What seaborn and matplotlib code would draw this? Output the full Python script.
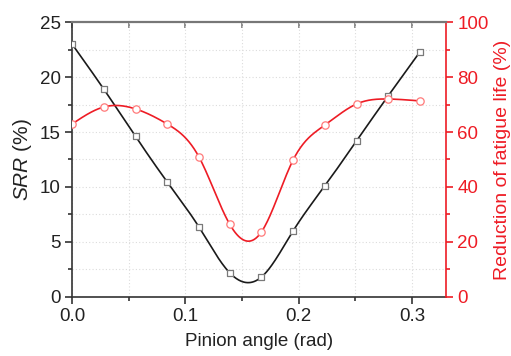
import numpy as np
import pandas as pd
import matplotlib
matplotlib.use("Agg")
import matplotlib.pyplot as plt
import seaborn as sns
from matplotlib.ticker import MultipleLocator, NullFormatter

angle = [0.0, 0.028, 0.056, 0.084, 0.112, 0.139, 0.167, 0.195, 0.223, 0.251, 0.279, 0.307]
srr = [23.0, 18.9, 14.6, 10.45, 6.35, 2.2, 1.8, 6.0, 10.1, 14.2, 18.3, 22.3]
reduction = [62.9, 69.1, 68.4, 62.9, 50.9, 26.5, 23.6, 49.8, 62.5, 70.2, 72.0, 71.3]


def natural_spline(x, y, xs):
    x = np.asarray(x, float)
    y = np.asarray(y, float)
    n = len(x)
    h = np.diff(x)
    A = np.zeros((n, n))
    b = np.zeros(n)
    A[0, 0] = 1
    A[-1, -1] = 1
    for i in range(1, n - 1):
        A[i, i - 1] = h[i - 1]
        A[i, i] = 2 * (h[i - 1] + h[i])
        A[i, i + 1] = h[i]
        b[i] = 3 * ((y[i + 1] - y[i]) / h[i] - (y[i] - y[i - 1]) / h[i - 1])
    c = np.linalg.solve(A, b)
    ys = np.empty_like(xs)
    for k, xv in enumerate(xs):
        i = min(max(np.searchsorted(x, xv) - 1, 0), n - 2)
        dx = xv - x[i]
        bi = (y[i + 1] - y[i]) / h[i] - h[i] * (2 * c[i] + c[i + 1]) / 3
        di = (c[i + 1] - c[i]) / (3 * h[i])
        ys[k] = y[i] + bi * dx + c[i] * dx ** 2 + di * dx ** 3
    return ys


sns.set_theme(style="white")
plt.rcParams["font.family"] = ["Liberation Sans", "DejaVu Sans"]
plt.rcParams["mathtext.fontset"] = "custom"
plt.rcParams["mathtext.it"] = "Liberation Sans:italic"
plt.rcParams["mathtext.rm"] = "Liberation Sans"

fig = plt.figure(figsize=(5.11, 3.56), dpi=100)
ax = fig.add_axes([0.141, 0.166, 0.732, 0.772])
ax2 = ax.twinx()

xs = np.linspace(angle[0], angle[-1], 400)
df_s = pd.DataFrame({"x": xs, "srr": natural_spline(angle, srr, xs),
                     "red": natural_spline(angle, reduction, xs)})
df = pd.DataFrame({"x": angle, "srr": srr, "red": reduction})

black = "#1a1a1a"
red = "#ee1c25"

sns.lineplot(data=df_s, x="x", y="srr", ax=ax, color=black, lw=1.2, zorder=3)
sns.scatterplot(data=df, x="x", y="srr", ax=ax, marker="s", s=22,
                facecolor="white", edgecolor="#7a7a7a", linewidth=0.9, zorder=4)
sns.lineplot(data=df_s, x="x", y="red", ax=ax2, color=red, lw=1.2, zorder=3)
sns.scatterplot(data=df, x="x", y="red", ax=ax2, marker="o", s=28,
                facecolor="white", edgecolor="#ff7a7a", linewidth=0.9, zorder=4)

ax.set_xlim(0, 0.33)
ax.set_ylim(0, 25)
ax2.set_ylim(0, 100)

ax.xaxis.set_major_locator(MultipleLocator(0.1))
ax.xaxis.set_minor_locator(MultipleLocator(0.05))
ax.yaxis.set_major_locator(MultipleLocator(5))
ax.yaxis.set_minor_locator(MultipleLocator(2.5))
ax2.yaxis.set_major_locator(MultipleLocator(20))
ax2.yaxis.set_minor_locator(MultipleLocator(10))
ax.set_xticks([0.0, 0.1, 0.2, 0.3])
ax.set_xticklabels(["0.0", "0.1", "0.2", "0.3"])

ax.grid(True, which="both", color="#dcdcdc", linestyle=(0, (1, 2)), lw=0.8)
ax.set_axisbelow(True)
ax2.grid(False)

fs = 13.5
ax.tick_params(axis="both", which="major", labelsize=fs, length=5, width=1.2,
               colors="#333333", labelcolor="#222222", direction="out",
               bottom=True, left=True, top=False, pad=3)
ax.tick_params(axis="both", which="minor", length=3, width=1.2,
               colors="#333333", direction="out", bottom=True, left=True, top=False)

# top ticks pointing inward
top = ax.secondary_xaxis("top")
top.xaxis.set_major_locator(MultipleLocator(0.05))
top.xaxis.set_major_formatter(NullFormatter())
top.tick_params(axis="x", which="major", direction="in", length=4, width=1.2,
                colors="#777777")
top.spines["top"].set_visible(False)

ax2.tick_params(axis="y", which="major", labelsize=fs, length=5, width=1.2,
                colors=red, labelcolor=red, direction="out", right=True, pad=3)
ax2.tick_params(axis="y", which="minor", length=3, width=1.2, colors=red,
                direction="out", right=True)

for s in ["left", "bottom"]:
    ax.spines[s].set_color("#333333")
    ax.spines[s].set_linewidth(1.2)
ax.spines["right"].set_visible(False)
for s in ["left", "bottom", "top"]:
    ax2.spines[s].set_visible(False)
ax2.spines["top"].set_visible(True)
ax2.spines["top"].set_color("#777777")
ax2.spines["top"].set_linewidth(1.6)
ax.spines["top"].set_visible(False)
ax2.spines["right"].set_color(red)
ax2.spines["right"].set_linewidth(1.2)

ax.set_xlabel("Pinion angle (rad)", fontsize=13.5, color="#222222", labelpad=6)
ax.set_ylabel(r"$\it{SRR}$ (%)", fontsize=15, color="#222222", labelpad=4)
ax2.set_ylabel("Reduction of fatigue life (%)", fontsize=14, color=red, labelpad=4)

fig.savefig("out.png", dpi=100)
